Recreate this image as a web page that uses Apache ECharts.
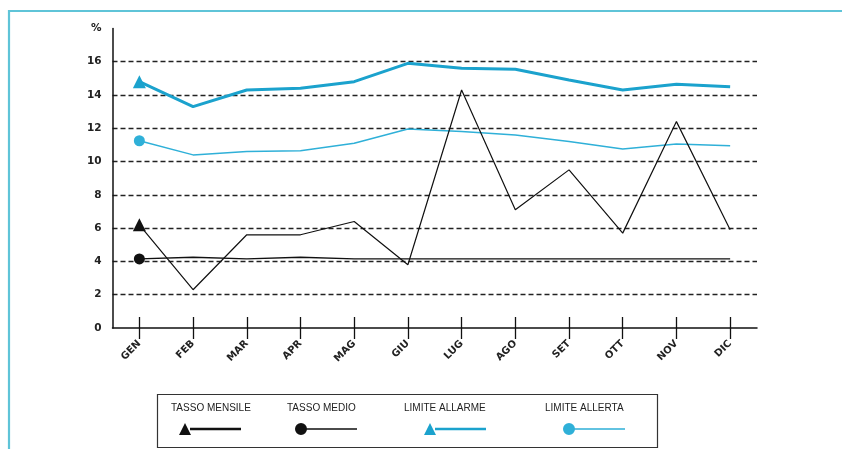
<!DOCTYPE html>
<html>
<head>
<meta charset="utf-8">
<script src="https://cdn.jsdelivr.net/npm/echarts@6/dist/echarts.min.js"></script>
<style>
  html, body { margin: 0; padding: 0; background: #fff; }
  #chart { width: 842px; height: 449px; }
</style>
</head>
<body>
<div id="chart"></div>
<script>
// Mesi dell'anno
const mesi = ['GEN', 'FEB', 'MAR', 'APR', 'MAG', 'GIU', 'LUG', 'AGO', 'SET', 'OTT', 'NOV', 'DIC'];

// Valori percentuali mensili
const tassoMensile   = [6.2, 2.3, 5.6, 5.6, 6.4, 3.8, 14.3, 7.1, 9.5, 5.7, 12.4, 5.9];
const tassoMedio     = [4.15, 4.25, 4.15, 4.25, 4.15, 4.15, 4.15, 4.15, 4.15, 4.15, 4.15, 4.15];
const limiteAllarme  = [14.8, 13.3, 14.3, 14.4, 14.8, 15.9, 15.6, 15.55, 14.9, 14.3, 14.65, 14.5];
const limiteAllerta  = [11.25, 10.4, 10.6, 10.65, 11.1, 11.95, 11.8, 11.6, 11.2, 10.75, 11.05, 10.95];

// Tacche dell'asse y (l'ultima riporta l'unità)
const yTicks = [0, 2, 4, 6, 8, 10, 12, 14, 16, 18];

const NERO = '#111111';
const AZZURRO = '#1ba2cd';
const AZZURRO_CHIARO = '#2fb0d8';
const CORNICE = '#5fc4d8';

const chart = echarts.init(document.getElementById('chart'), null, { renderer: 'canvas' });

const firstOnly = (shape) => (v, p) => (p.dataIndex === 0 ? shape : 'none');

// Icone della legenda: simbolo + tratto
const triIcon = (h) => `path://M0,12 L6,0 L12,12 Z M11,${6 - h / 2} L62,${6 - h / 2} L62,${6 + h / 2} L11,${6 + h / 2} Z`;
const dotIcon = (h) => `path://M0,6 A6,6 0 1,1 12,6 A6,6 0 1,1 0,6 Z M11,${6 - h / 2} L62,${6 - h / 2} L62,${6 + h / 2} L11,${6 + h / 2} Z`;

const legendItem = (name, icon, left) => ({
  data: [name],
  icon: icon,
  left: left,
  top: 423,
  itemWidth: 62,
  itemHeight: 12,
  itemGap: 0,
  padding: 0,
  formatter: () => '',
  selectedMode: false
});

const legendFont = { fill: '#222', font: '10px "Liberation Sans"' };

chart.setOption({
  animation: false,
  backgroundColor: '#ffffff',
  grid: { left: 112.5, top: 28.4, width: 644.5, height: 299.6, containLabel: false },
  xAxis: [
    {
      type: 'category',
      data: mesi,
      boundaryGap: true,
      axisLine: { show: true, lineStyle: { color: NERO, width: 1.5 } },
      axisTick: { show: true, alignWithLabel: true, length: 11, lineStyle: { color: NERO, width: 1.3 } },
      axisLabel: {
        rotate: 45, margin: 14,
        color: '#222', fontSize: 10, fontWeight: 'bold', fontFamily: 'DejaVu Sans'
      },
      splitLine: { show: false }
    },
    {
      // tacche interne sopra l'asse
      type: 'category',
      data: mesi,
      position: 'bottom',
      boundaryGap: true,
      axisLine: { show: false },
      axisTick: { show: true, inside: true, alignWithLabel: true, length: 11, lineStyle: { color: NERO, width: 1.3 } },
      axisLabel: { show: false },
      splitLine: { show: false }
    }
  ],
  yAxis: {
    type: 'value',
    min: yTicks[0],
    max: yTicks[yTicks.length - 1],
    interval: 2,
    axisLine: { show: true, lineStyle: { color: NERO, width: 1.5 } },
    axisTick: { show: false },
    axisLabel: {
      margin: 11, color: '#222', fontSize: 10.5, fontWeight: 'bold', fontFamily: 'DejaVu Sans',
      formatter: (v) => (v === 18 ? '%' : String(v))
    },
    splitLine: {
      show: true,
      showMinLine: false,
      showMaxLine: false,
      lineStyle: { color: '#222', width: 1.3, type: [5, 3] }
    }
  },
  legend: [
    legendItem('TASSO MENSILE', triIcon(2.6), 179),
    legendItem('TASSO MEDIO', dotIcon(1.3), 295),
    legendItem('LIMITE ALLARME', triIcon(2.6), 424),
    legendItem('LIMITE ALLERTA', dotIcon(1.3), 563)
  ],
  series: [
    {
      name: 'LIMITE ALLARME', type: 'line', data: limiteAllarme,
      symbol: firstOnly('triangle'), symbolSize: 13, showAllSymbol: true,
      color: AZZURRO, lineStyle: { color: AZZURRO, width: 3 }, itemStyle: { color: AZZURRO }, z: 2
    },
    {
      name: 'LIMITE ALLERTA', type: 'line', data: limiteAllerta,
      symbol: firstOnly('circle'), symbolSize: 11, showAllSymbol: true,
      color: AZZURRO_CHIARO, lineStyle: { color: AZZURRO_CHIARO, width: 1.5 }, itemStyle: { color: AZZURRO_CHIARO }, z: 2
    },
    {
      name: 'TASSO MEDIO', type: 'line', data: tassoMedio,
      symbol: firstOnly('circle'), symbolSize: 11, showAllSymbol: true,
      color: NERO, lineStyle: { color: NERO, width: 1.3 }, itemStyle: { color: NERO }, z: 3
    },
    {
      name: 'TASSO MENSILE', type: 'line', data: tassoMensile,
      symbol: firstOnly('triangle'), symbolSize: 13, showAllSymbol: true,
      color: NERO, lineStyle: { color: NERO, width: 1.2 }, itemStyle: { color: NERO }, z: 3
    }
  ],
  graphic: [
    // cornice esterna
    {
      type: 'polyline', silent: true,
      shape: { points: [[9, 449], [9, 11], [842, 11]] },
      style: { stroke: CORNICE, lineWidth: 2.2, fill: null }
    },
    // riquadro della legenda
    {
      type: 'rect', silent: true,
      shape: { x: 157.5, y: 394.5, width: 500, height: 53 },
      style: { stroke: '#333', lineWidth: 1.2, fill: null }
    },
    { type: 'text', left: 171, top: 403, silent: true, style: Object.assign({ text: 'TASSO MENSILE' }, legendFont) },
    { type: 'text', left: 287, top: 403, silent: true, style: Object.assign({ text: 'TASSO MEDIO' }, legendFont) },
    { type: 'text', left: 404, top: 403, silent: true, style: Object.assign({ text: 'LIMITE ALLARME' }, legendFont) },
    { type: 'text', left: 545, top: 403, silent: true, style: Object.assign({ text: 'LIMITE ALLERTA' }, legendFont) }
  ]
});
</script>
</body>
</html>
